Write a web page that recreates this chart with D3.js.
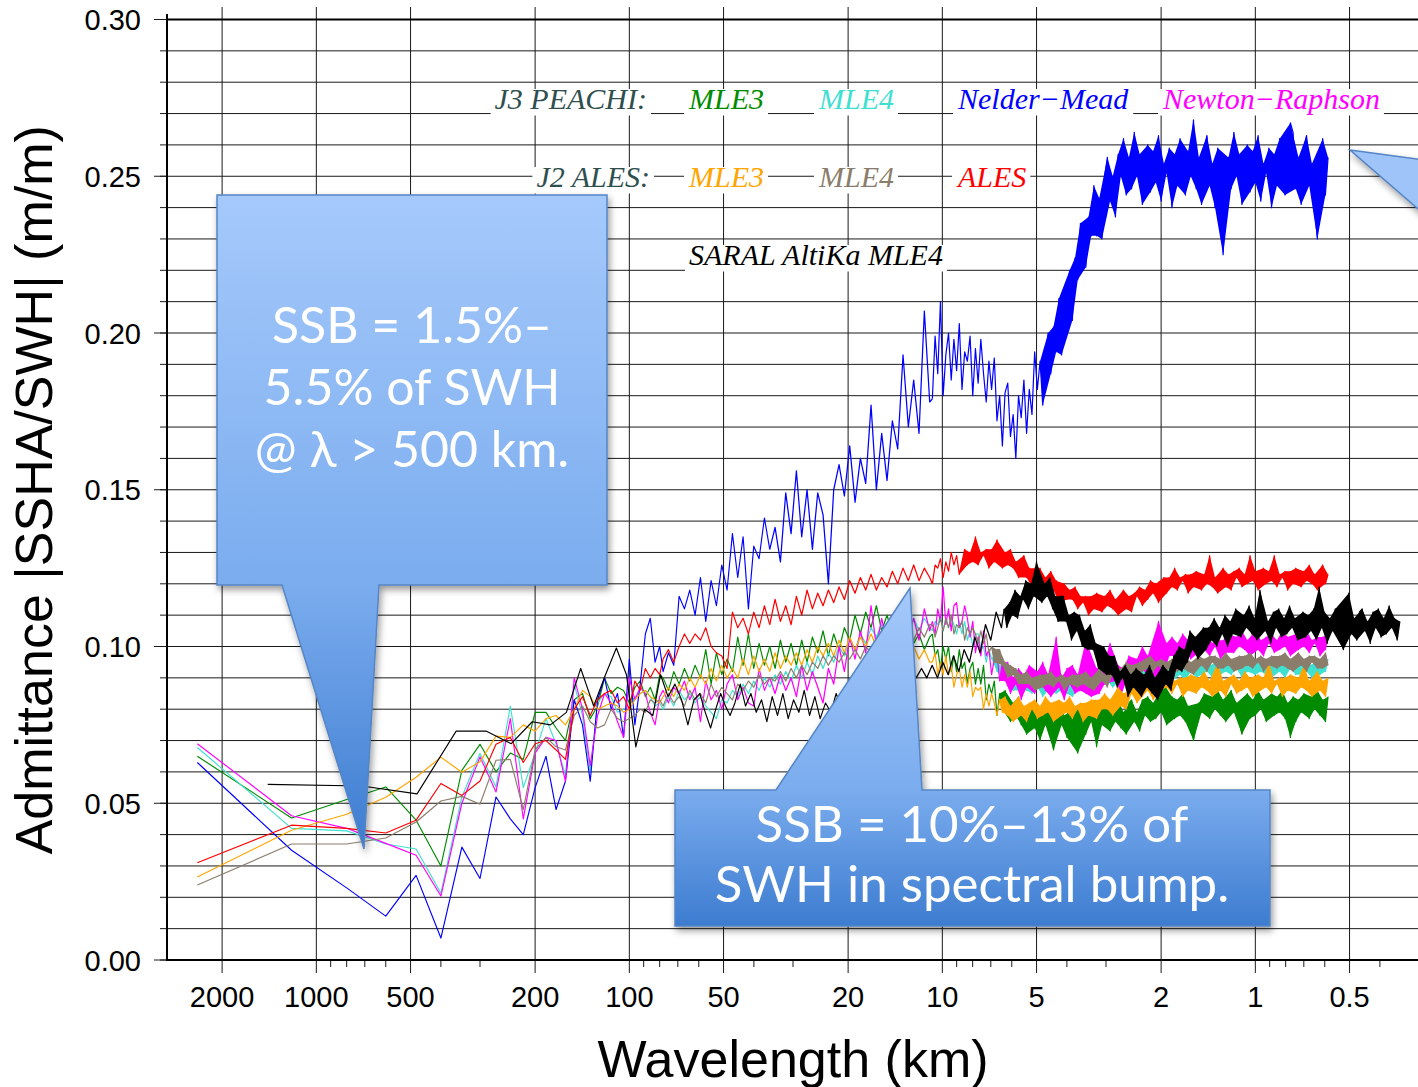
<!DOCTYPE html>
<html><head><meta charset="utf-8">
<script src="https://cdn.jsdelivr.net/npm/d3@7"></script>
<style>body{margin:0;background:#fff}svg{display:block}</style>
</head><body>
<svg id="c" width="1418" height="1087"></svg>
<script>
// ---------- axis ticks ----------
const xTicksMajor = [2000,1000,500,200,100,50,20,10,5,2,1,0.5];
const xTicksMinor = [900,800,700,600,400,300,90,80,70,60,40,30,9,8,7,6,4,3,0.9,0.8,0.7,0.6,0.4,0.3];
const yTicksMajor = [0,0.05,0.10,0.15,0.20,0.25,0.30];
const yTickLabels = ["0.00","0.05","0.10","0.15","0.20","0.25","0.30"];

// ---------- sampling grids ----------
// low: wavelength = record length / harmonic n ; mid: thinned grid (ratio 1.04) ; fine: thinned grid (ratio 1.02)
const jasonRecordKm = 2400, saralRecordKm = 1430;
const lowHarmonics = [1,2,3,4,5,6,7,8,9,10,11,12,13,14,15,16,17,18,19,20,21,22,23,24,25,26,27,28,29,30];
const midRatio = 1.04, jasonMidStartKm = 78, saralMidStartKm = 46;
const fineRatio = 1.02, jasonFineStartKm = 10.76, saralFineStartKm = 6.345;

// ---------- series values: low & mid in m/m, fine in 1e-3 m/m ----------
const greenLow = [.065,.0453,.0512,.0552,.0446,.030,.0605,.0688,.060,.066,.064,.079,.079,.074,.070,.083,.085,.077,.081,.090,.085,.087,.086,.082,.087,.089,.084,.087,.083,.091];
const greenMid = [.090,.086,.092,.088,.093,.089,.094,.090,.099,.088,.098,.091,.096,.092,.103,.094,.104,.093,.101,.094,
.100,.093,.102,.095,.101,.094,.102,.095,.103,.098,.105,.097,.104,.099,.106,.102,.110,.104,.111,.106,
.113,.105,.110,.104,.108,.103,.106,.101,.104,.099,.103];
const greenFine = [104,97,99,93,100,96,100,92,97,92,99,93,95,88,93,95,88,93,88,94,
83,88,85,89,78,85,80,86,80,76,82,78,84,75,80,72,81,82,74,77,
70,80,75,81,72,67,73,82,75,78,71,77,80,72,66,74,81,72,78,76,
81,68,79,75,82,77,73,80,76,83,74,79,72,82,83,76,79,73,83,78,
84,76,82,77,85,79,88,75,81,84,77,83,78,85,76,81,79,70,75,82,
79,85,81,77,84,80,86,78,83,76,84,86,79,82,76,72,80,85,77,83,
78,86,80,83,76,82,85,78,84,79,86,77,82,71,84,76,83,79,85,81,
77,84,80,86,78,83,76,84];

const cyanLow = [.0678,.042,.0412,.037,.0354,.0213,.052,.0659,.0552,.081,.055,.066,.077,.069,.059,.088,.078,.060,.082,.085,.084,.079,.080,.081,.084,.085,.086,.084,.081,.082];
const cyanMid = [.080,.084,.081,.086,.083,.085,.082,.084,.081,.079,.077,.083,.082,.086,.084,.088,.085,.089,.086,.090,
.087,.091,.088,.092,.089,.094,.090,.095,.091,.097,.093,.098,.095,.100,.097,.102,.099,.104,.101,.106,
.103,.107,.104,.108,.105,.109,.105,.109,.105,.109,.106];
const cyanFine = [105,108,107,110,105,109,106,109,107,104,108,104,108,102,105,100,104,104,99,100,
95,99,96,97,92,94,90,94,89,90,86,88,90,86,90,86,90,85,88,87,
89,84,88,86,89,87,85,89,86,90,85,88,84,89,91,87,89,85,90,89,
91,87,90,88,93,89,91,87,91,93,89,93,90,94,89,92,91,93,88,92,
91,94,92,90,94,91,95,90,93,89,94,95,91,93,89,94,92,94,90,93,
91,96,92,94,90,93,95,91,95,92,96,91,94,93,95,90,94,92,95,93,
91,95,92,96,91,94,90,95,96,92,94,90,95,93,95,91,94,91,96,92,
94,90,93,95,91,95,92,96];

const blueLow = [.063,.035,.023,.014,.027,.007,.036,.026,.052,.045,.040,.055,.065,.048,.057,.083,.075,.057,.083,.090,.080,.085,.071,.096,.075,.088,.104,.109,.095,.100];
const blueMid = [.092,.098,.094,.116,.112,.118,.110,.122,.108,.121,.113,.126,.118,.136,.122,.135,.112,.132,.128,.141,
.131,.138,.127,.149,.136,.156,.135,.150,.131,.149,.142,.120,.150,.158,.148,.164,.146,.160,.152,.177,
.150,.168,.153,.172,.163,.193,.170,.185,.168,.207,.178];
const blueFine = [179,199,187,210,180,193,200,185,198,188,203,182,194,191,199,180,195,184,198,187,
178,191,182,192,172,180,164,181,184,167,174,160,180,173,185,168,182,174,194,182,
191,177,191,200,187,202,194,211,193,208,209,220,204,224,217,235,227,221,237,231,
247,231,243,230,250,256,242,250,237,257,250,262,244,256,246,264,250,257,241,253,
260,245,258,248,263,242,254,251,259,240,257,247,262,252,244,258,250,268,246,256,
241,259,263,247,254,240,259,251,225,244,256,246,264,250,257,241,253,260,245,258,
248,263,242,254,251,259,240,257,247,262,252,244,258,267,264,246,256,241,259,263,
247,254,240,230,251,262,244,256];

const magentaLow = [.069,.046,.042,.0372,.0334,.0204,.050,.0648,.0536,.077,.045,.066,.071,.070,.057,.090,.080,.062,.078,.085,.082,.076,.071,.090,.083,.087,.085,.079,.075,.084];
const magentaMid = [.086,.082,.087,.085,.089,.083,.087,.076,.089,.083,.086,.080,.088,.091,.083,.087,.082,.081,.093,.086,
.090,.085,.091,.086,.090,.084,.094,.086,.092,.087,.082,.093,.088,.100,.092,.103,.096,.105,.098,.113,
.100,.109,.101,.110,.102,.108,.103,.109,.102,.112,.105];
const magentaFine = [108,104,112,108,119,107,112,105,113,114,106,108,113,109,103,108,98,103,97,105,
97,99,91,96,98,89,95,89,95,85,90,88,93,83,91,87,94,89,85,92,
88,95,86,91,84,93,103,87,90,83,93,88,94,85,91,86,95,102,91,84,
90,93,85,93,88,95,101,91,89,94,84,93,89,97,92,89,96,93,100,92,
97,90,100,101,108,98,91,101,97,103,97,101,98,104,99,102,96,100,103,98,
102,99,104,97,101,100,102,96,102,98,104,101,98,103,100,105,99,102,97,103,
105,99,102,97,103,101,104,98,102,99,105,100,103,97,101,104,99,103,100,105,
98,102,101,103,97,103,99,104];

const orangeLow = [.0265,.0414,.0465,.0519,.0583,.0647,.0599,.0632,.0714,.071,.075,.073,.077,.078,.075,.080,.086,.084,.080,.081,.082,.081,.079,.080,.083,.085,.086,.084,.083,.082];
const orangeMid = [.084,.087,.084,.088,.086,.090,.087,.091,.088,.093,.089,.094,.090,.093,.090,.096,.091,.097,.092,.096,
.092,.098,.093,.097,.094,.098,.094,.099,.095,.100,.097,.101,.097,.102,.098,.103,.099,.103,.100,.104,
.100,.104,.099,.103,.099,.102,.098,.100,.096,.099,.095];
const orangeFine = [95,98,91,95,91,97,91,94,87,91,93,87,91,87,92,84,87,86,87,80,
85,81,85,82,78,83,79,84,78,81,76,82,84,78,81,76,82,80,83,77,
81,78,84,79,82,76,80,83,78,82,79,84,77,81,80,82,76,82,78,83,
80,77,83,80,85,80,83,78,85,87,81,85,80,86,85,88,82,87,84,90,
86,89,83,87,91,86,90,87,92,85,89,88,90,84,90,86,91,88,85,90,
87,92,86,89,84,90,95,86,89,84,90,88,91,85,89,86,92,87,90,84,
88,91,86,90,87,95,85,89,88,90,84,90,86,91,88,85,90,87,94,86,
89,84,90,92,86,89,84,90];

const grayLow = [.0239,.037,.037,.0389,.044,.0507,.0522,.0497,.0637,.064,.048,.067,.071,.068,.067,.078,.081,.076,.074,.075,.080,.077,.076,.077,.078,.080,.079,.083,.082,.083];
const grayMid = [.081,.085,.082,.084,.081,.086,.083,.085,.082,.088,.084,.087,.085,.083,.088,.086,.089,.087,.091,.088,
.090,.089,.092,.089,.093,.090,.094,.091,.095,.093,.097,.094,.097,.095,.098,.096,.099,.096,.100,.098,
.101,.099,.103,.100,.104,.102,.105,.102,.106,.103,.107];
const grayFine = [107,103,106,109,105,109,106,110,104,107,106,108,102,106,104,106,104,101,105,101,
104,98,100,95,99,99,94,95,90,94,91,93,88,91,88,92,88,90,86,89,
91,87,91,88,92,87,90,89,91,86,90,88,91,89,87,91,88,92,87,90,
86,91,93,89,91,87,93,91,93,89,93,90,95,91,94,90,93,95,92,96,
93,97,92,95,94,96,91,95,93,96,94,92,96,93,97,92,95,91,96,97,
94,96,92,97,95,97,93,96,93,98,94,96,92,95,97,93,97,94,98,93,
96,95,97,92,96,94,97,95,93,97,94,98,93,96,92,97,98,94,96,92,
97,95,97,93,96,93,98,94];

const redLow = [.031,.043,.042,.0405,.0446,.0563,.0525,.0571,.0688,.071,.063,.069,.070,.067,.064,.080,.084,.078,.083,.085,.086,.082,.084,.080,.089,.086,.093,.090,.093,.091];
const redMid = [.096,.099,.095,.100,.104,.101,.104,.102,.106,.100,.098,.097,.093,.111,.106,.109,.104,.111,.106,.113,
.107,.115,.108,.113,.107,.116,.110,.118,.112,.117,.113,.118,.114,.119,.115,.121,.117,.122,.118,.123,
.118,.122,.119,.124,.120,.125,.121,.126,.121,.125,.122];
const redFine = [120,126,125,128,122,127,124,130,126,129,123,127,131,126,130,127,135,126,130,129,
131,125,131,127,134,128,125,130,126,131,125,127,122,127,129,122,125,119,125,122,
125,118,122,118,124,118,121,114,118,120,115,118,115,119,112,116,114,116,110,116,
112,117,114,111,116,113,118,112,115,110,116,118,112,116,111,117,116,119,113,118,
115,121,117,120,114,119,122,117,122,119,125,118,122,121,123,117,123,119,124,121,
118,123,120,129,119,122,117,123,125,119,123,118,124,122,125,119,123,120,129,121,
124,118,122,125,120,124,121,129,119,123,122,124,118,124,120,125,122,119,124,121,
126,120,123,118,124,126,120,123];

const blackLow = [.056,.0555,.053,.073,.073,.069,.076,.075,.079,.093,.081,.091,.0995,.091,.068,.080,.078,.091,.084,.088,.083,.075,.083,.085,.079,.074,.080,.085,.081,.078];
const blackMid = [.082,.088,.081,.085,.079,.083,.076,.084,.078,.085,.077,.083,.079,.086,.078,.084,.077,.082,.079,.085,
.080,.086,.081,.087,.083,.089,.084,.090,.086,.091,.087,.092,.088,.092,.090,.093,.090,.094,.090,.095,
.091,.097,.092,.099,.095,.103,.098,.107,.102,.111,.106];
const blackFine = [112,106,114,110,118,109,116,115,121,112,120,116,127,118,114,120,116,122,112,116,
108,116,116,108,110,102,111,105,110,100,105,99,107,99,101,93,98,100,91,97,
91,97,87,92,90,94,84,91,87,93,88,84,91,87,94,85,90,83,92,94,
88,92,86,97,93,100,92,99,95,105,99,103,96,103,106,99,106,102,109,100,
106,104,110,100,108,104,112,107,103,110,106,113,104,109,102,118,112,105,108,101,
111,106,112,103,109,104,113,106,109,102,108,111,103,110,105,112,102,119,106,111,
101,109,105,112,107,103,99,106,117,104,109,102,111,112,105,108,101,111,106,112,
103,109,104,113,106,109,102,108];

// ---------- legend / annotation text ----------
const legendTitles = ["J3 PEACHI:", "J2 ALES:"];
const legendRow1 = ["MLE3","MLE4","Nelder\u2212Mead","Newton\u2212Raphson"];
const legendRow2 = ["MLE3","MLE4","ALES"];
const legendRow3 = ["SARAL AltiKa MLE4"];
const callout1Lines = ["SSB = 1.5%\u2013","5.5% of SWH","@ \u03bb > 500 km."];
const callout2Lines = ["SSB = 10%\u201313% of","SWH in spectral bump."];

// ---------- series config (draw order); bandFrom = fine index where the noise merges into a solid band ----------
const J = {rec:jasonRecordKm, midStart:jasonMidStartKm, fineStart:jasonFineStartKm};
const S = {rec:saralRecordKm, midStart:saralMidStartKm, fineStart:saralFineStartKm};
const series = [
  {color:"#008B00", ...J, low:greenLow, mid:greenMid, fine:greenFine, bandFrom:25},
  {color:"#40E0D0", ...J, low:cyanLow, mid:cyanMid, fine:cyanFine, bandFrom:22},
  {color:"#0000FF", ...J, low:blueLow, mid:blueMid, fine:blueFine, bandFrom:40},
  {color:"#FF00FF", ...J, low:magentaLow, mid:magentaMid, fine:magentaFine, bandFrom:25},
  {color:"#FFA500", ...J, low:orangeLow, mid:orangeMid, fine:orangeFine, bandFrom:25},
  {color:"#8B7D6B", ...J, low:grayLow, mid:grayMid, fine:grayFine, bandFrom:22},
  {color:"#FF0000", ...J, low:redLow, mid:redMid, fine:redFine, bandFrom:10},
  {color:"#000000", ...S, low:blackLow, mid:blackMid, fine:blackFine, bandFrom:0}
];

// ---------- scales ----------
const L = 167, R = 1418, T = 19.5, B = 960;
const x = d3.scaleLog().domain([3000, 0.3]).range([167, 1419]);
const y = d3.scaleLinear().domain([0, 0.30]).range([B, T]);

const svg = d3.select("#c");
const defs = svg.append("defs");
const grad = defs.append("linearGradient").attr("id","cg").attr("x1",0).attr("y1",0).attr("x2",0).attr("y2",1);
grad.selectAll("stop").data([[0,"#A5C9FB"],[0.6,"#7AACEE"],[1,"#3D7CD0"]]).join("stop")
  .attr("offset",d=>d[0]).attr("stop-color",d=>d[1]);
const flt = defs.append("filter").attr("id","sh").attr("x","-20%").attr("y","-20%").attr("width","150%").attr("height","150%");
flt.append("feDropShadow").attr("dx",2).attr("dy",4).attr("stdDeviation",3.5).attr("flood-color","#000").attr("flood-opacity",0.4);
defs.append("clipPath").attr("id","plot").append("rect").attr("x",L).attr("y",T).attr("width",R-L).attr("height",B-T);

// ---------- grid ----------
const grid = svg.append("g").attr("stroke","#1a1a1a").attr("stroke-width",1);
grid.selectAll("line.h").data(y.ticks(30).filter(v=>v>0.001 && v<0.299)).join("line")
  .attr("x1",L).attr("x2",R).attr("y1",d=>y(d)).attr("y2",d=>y(d));
grid.selectAll("line.v").data(xTicksMajor).join("line")
  .attr("x1",d=>x(d)).attr("x2",d=>x(d)).attr("y1",7).attr("y2",B+13);
grid.selectAll("line.m").data(xTicksMinor).join("line")
  .attr("x1",d=>x(d)).attr("x2",d=>x(d)).attr("y1",B).attr("y2",B+7);
grid.selectAll("line.yl").data(y.ticks(30)).join("line")
  .attr("x1",L-7).attr("x2",L).attr("y1",d=>y(d)).attr("y2",d=>y(d));
grid.selectAll("line.yM").data(yTicksMajor).join("line")
  .attr("x1",L-13).attr("x2",L).attr("y1",d=>y(d)).attr("y2",d=>y(d));

// ---------- series ----------
const line = d3.line().x(d=>x(d.wl)).y(d=>y(d.v));
// polygon through the local maxima (left→right) and local minima (right→left) of the samples
function bandPath(pts){
  const up = [], dn = [];
  pts.forEach((p,i)=>{
    const a = pts[i-1], b = pts[i+1];
    const end = !a || !b;
    if (end || (p.v >= a.v && p.v >= b.v)) up.push(p);
    if (end || (p.v <= a.v && p.v <= b.v)) dn.push(p);
  });
  return line(up.concat(dn.reverse())) + "Z";
}
const gS = svg.append("g").attr("clip-path","url(#plot)").attr("stroke-linejoin","round");
series.forEach(s => {
  const lowPts = lowHarmonics.map((n,i)=>({wl:s.rec/n, v:s.low[i]}));
  const midPts = s.mid.map((v,i)=>({wl:s.midStart/Math.pow(midRatio,i), v}));
  const finePts = s.fine.map((v,i)=>({wl:s.fineStart/Math.pow(fineRatio,i), v:v*1e-3}));
  const pts = lowPts.concat(midPts, finePts);
  const nA = lowPts.length + 21, nB = lowPts.length + midPts.length;
  gS.append("path").attr("d", bandPath(finePts.slice(s.bandFrom))).attr("fill", s.color).attr("stroke","none");
  gS.append("path").attr("d", line(pts.slice(0, nA))).attr("fill","none").attr("stroke", s.color).attr("stroke-width", 1.15);
  gS.append("path").attr("d", line(pts.slice(nA-1, nB+1))).attr("fill","none").attr("stroke", s.color).attr("stroke-width", 1.25);
  gS.append("path").attr("d", line(pts.slice(nB))).attr("fill","none").attr("stroke", s.color).attr("stroke-width", 1.2);
});

// ---------- axis frame ----------
const fr = svg.append("g").attr("stroke","#000").attr("stroke-width",2);
fr.append("line").attr("x1",L).attr("x2",L).attr("y1",14).attr("y2",B+1);
fr.append("line").attr("x1",L-1).attr("x2",R).attr("y1",B).attr("y2",B);
fr.append("line").attr("x1",L-1).attr("x2",R).attr("y1",T).attr("y2",T);

// ---------- tick labels ----------
const tickFont = "'Liberation Sans', Arial, Helvetica, sans-serif";
svg.append("g").selectAll("text").data(yTicksMajor).join("text")
  .attr("x",141).attr("y",d=>y(d)+10.5).attr("text-anchor","end")
  .attr("font-family",tickFont).attr("font-size",29).text((d,i)=>yTickLabels[i]);
svg.append("g").selectAll("text").data(xTicksMajor).join("text")
  .attr("x",d=>x(d)).attr("y",1007).attr("text-anchor","middle")
  .attr("font-family",tickFont).attr("font-size",29).text(d=>String(d));

svg.append("text").attr("x",(L+1419)/2).attr("y",1077).attr("text-anchor","middle")
  .attr("font-family",tickFont).attr("font-size",52).text("Wavelength (km)");
svg.append("text").attr("transform",`translate(52,${(T+B)/2}) rotate(-90)`).attr("text-anchor","middle")
  .attr("font-family",tickFont).attr("font-size",52).text("Admittance |SSHA/SWH| (m/m)");

// ---------- legend ----------
const legG = svg.append("g");
function legendLabel(txt, xPos, base, color, anchor){
  const g = legG.append("g");
  const r = g.append("rect").attr("fill","#fff");
  const t = g.append("text").attr("x",xPos).attr("y",base).attr("text-anchor",anchor||"start")
    .attr("font-family","'Liberation Serif','Times New Roman',serif").attr("font-style","italic")
    .attr("font-size",30).attr("fill",color).text(txt);
  const bb = t.node().getBBox();
  r.attr("x",bb.x-4).attr("width",bb.width+8).attr("y",base-20).attr("height",26.5);
}
const cols = [689, 819, 958, 1163];
const rowBase = [109, 187, 265];
legendLabel(legendTitles[0], 647, rowBase[0], "#2F4F4F", "end");
legendRow1.forEach((t,i)=>legendLabel(t, cols[i], rowBase[0], series[i].color));
legendLabel(legendTitles[1], 650, rowBase[1], "#2F4F4F", "end");
legendRow2.forEach((t,i)=>legendLabel(t, cols[i], rowBase[1], series[4+i].color));
legendRow3.forEach(t=>legendLabel(t, cols[0], rowBase[2], series[7].color));

// ---------- callouts ----------
const cg = svg.append("g");
function callout(d){
  cg.append("path").attr("d",d).attr("fill","url(#cg)").attr("stroke","#5585C5").attr("stroke-width",1.5)
    .attr("stroke-linejoin","miter").attr("filter","url(#sh)");
}
callout("M217,195 H607 V585 H379 L364,849 L282,585 H217 Z");
callout("M675,790 H776 L910,588 L922,790 H1270 V926 H675 Z");
cg.append("path").attr("d","M1350,150 L1440,162 L1440,228 Z").attr("fill","#9EC4F9").attr("stroke","#5585C5").attr("stroke-width",1.5).attr("filter","url(#sh)");

const cFont = "Lato, 'Open Sans', sans-serif";
callout1Lines.forEach((t,i)=>cg.append("text").attr("x",412).attr("y",343+i*62).attr("text-anchor","middle")
  .attr("font-family",cFont).attr("font-size",50).attr("fill","#fff").text(t));
callout2Lines.forEach((t,i)=>cg.append("text").attr("x",972).attr("y",842+i*60).attr("text-anchor","middle")
  .attr("font-family",cFont).attr("font-size",51).attr("fill","#fff").text(t));
</script>
</body></html>
